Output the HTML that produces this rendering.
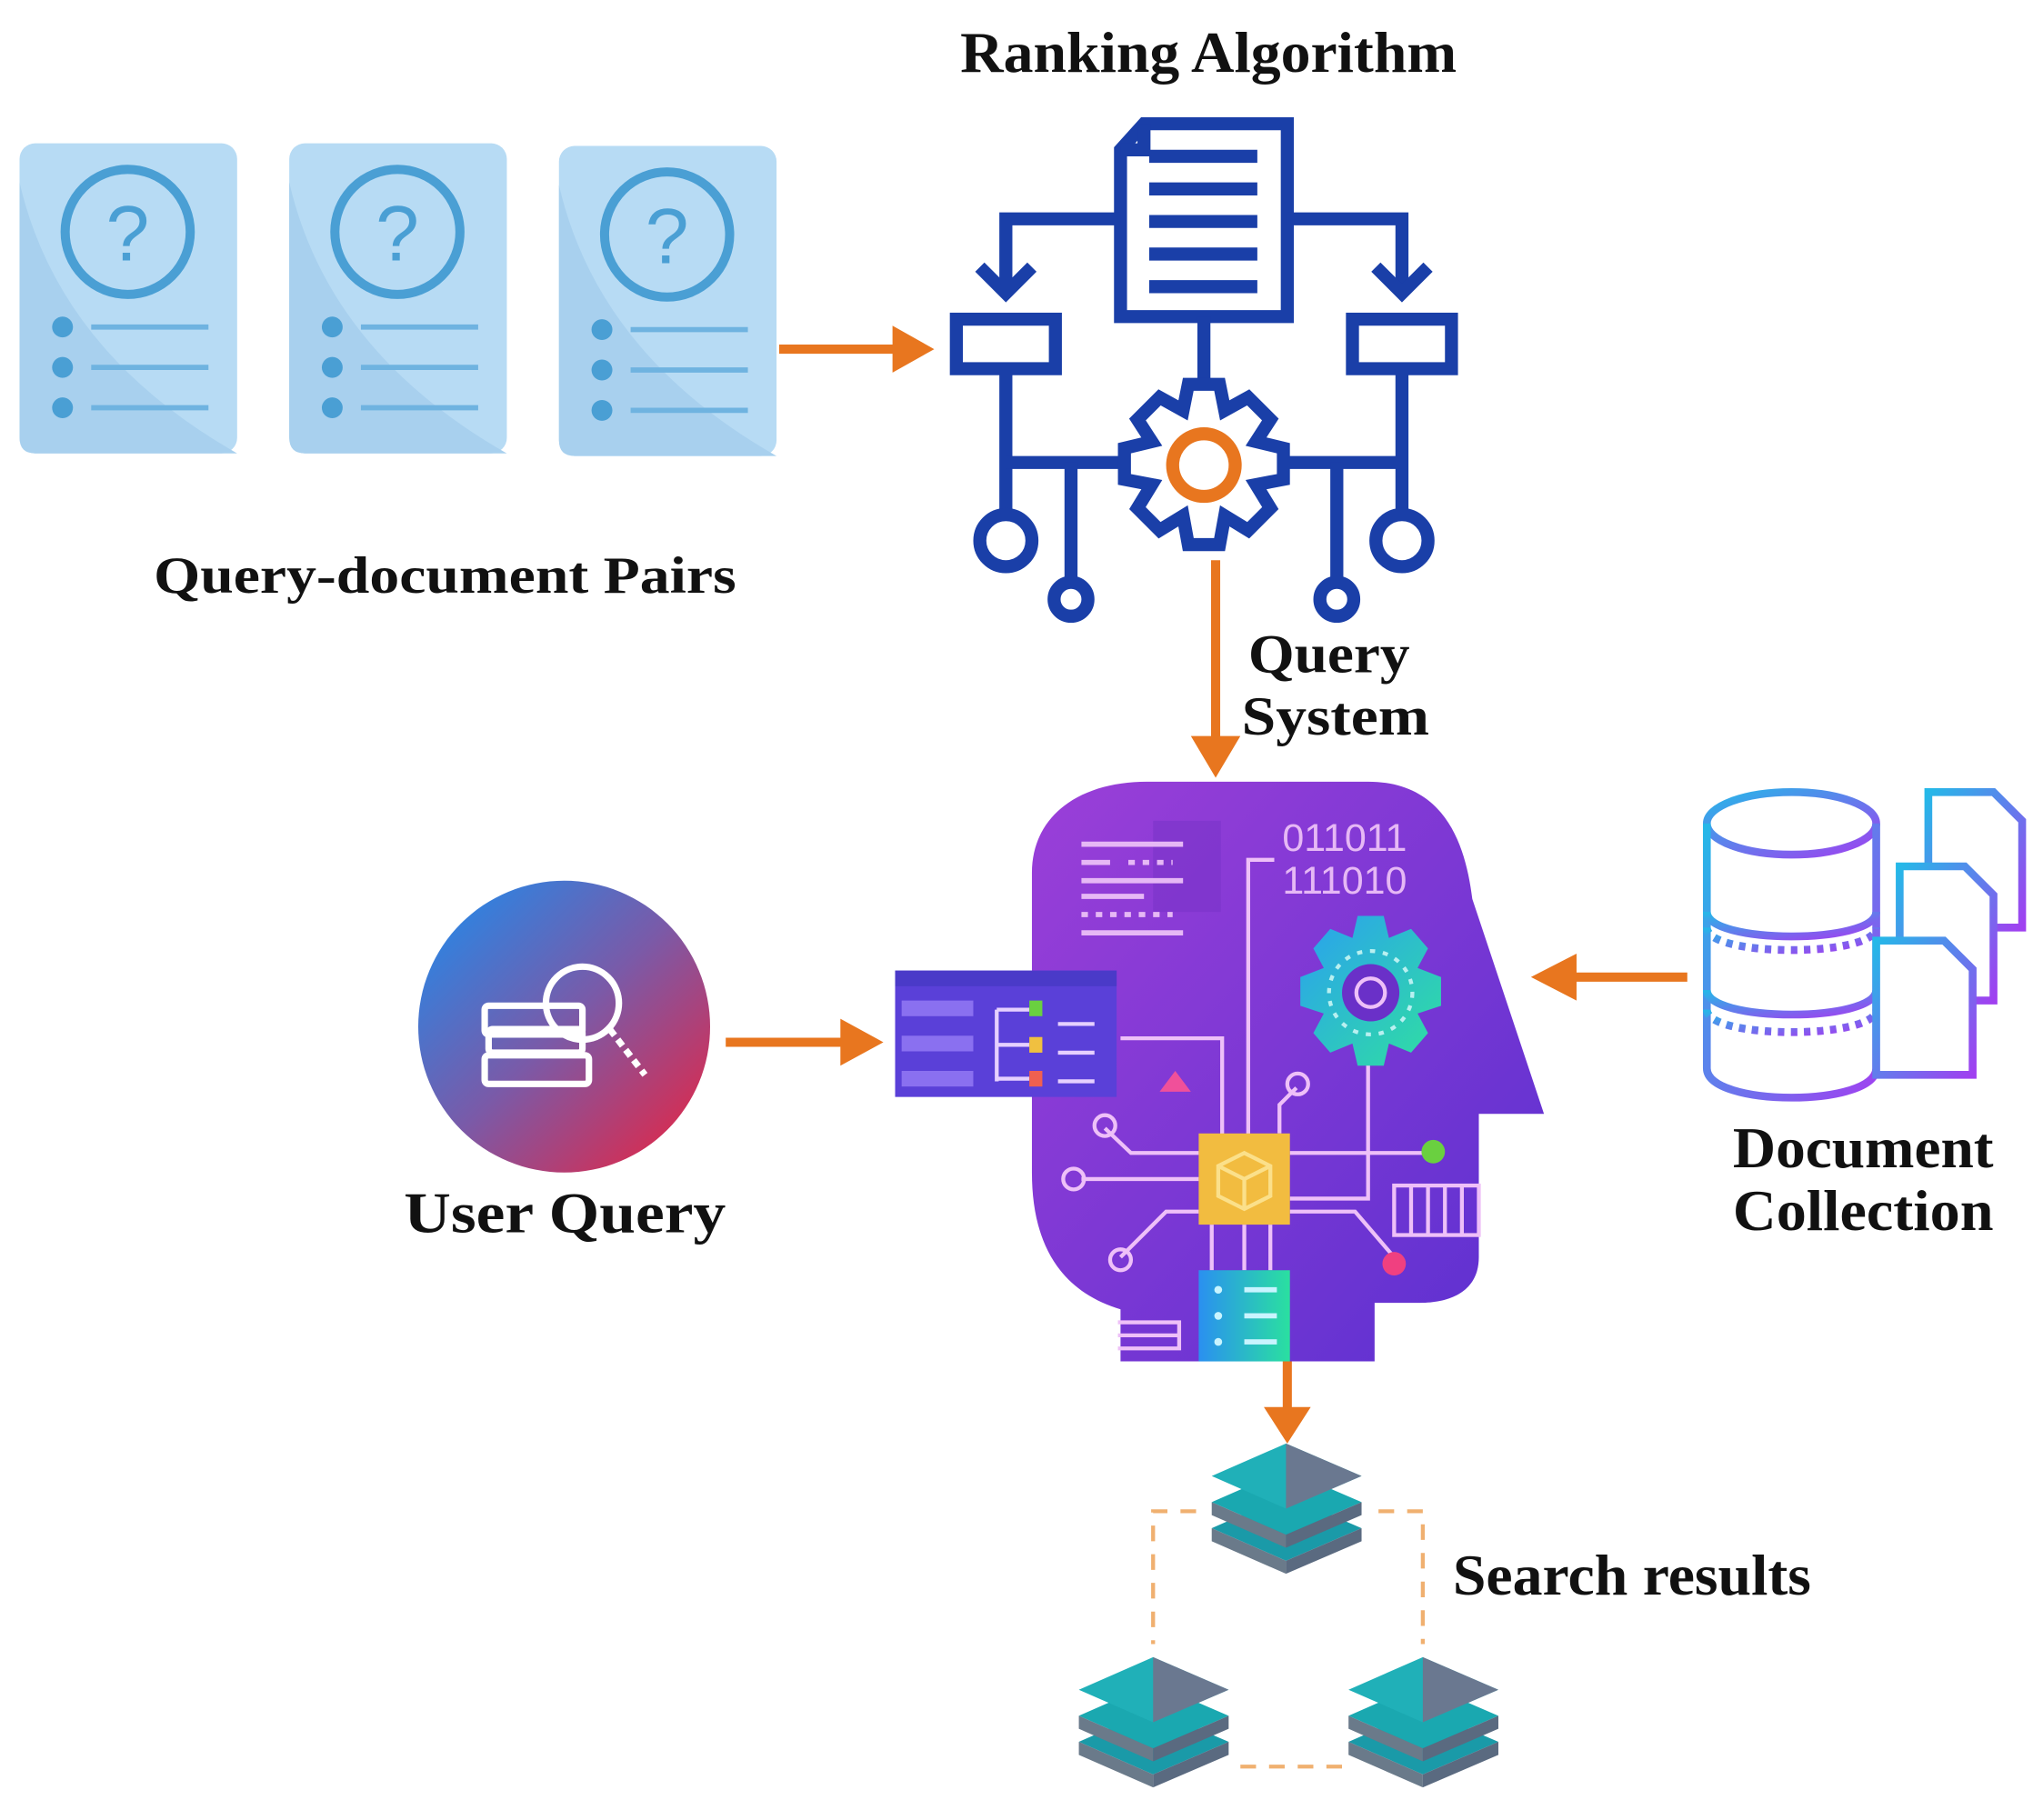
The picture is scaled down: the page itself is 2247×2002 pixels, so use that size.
<!DOCTYPE html>
<html><head><meta charset="utf-8"><style>
html,body{margin:0;padding:0;background:#fff;}
svg{display:block}
text{font-family:"Liberation Serif",serif;font-weight:bold;fill:#111}
</style></head><body>
<svg width="2247" height="2002" viewBox="0 0 1568 1397" preserveAspectRatio="none" xmlns="http://www.w3.org/2000/svg">
<defs>
<linearGradient id="head" x1="0" y1="0" x2="1" y2="1"><stop offset="0" stop-color="#9b3fd8"/><stop offset="1" stop-color="#5a30d0"/></linearGradient>
<linearGradient id="uq" x1="0" y1="0" x2="1" y2="1"><stop offset="0" stop-color="#1a8ef0"/><stop offset="0.5" stop-color="#7a5aa8"/><stop offset="1" stop-color="#f0203a"/></linearGradient>
<linearGradient id="db" x1="0" y1="0" x2="1" y2="1"><stop offset="0" stop-color="#25b8e8"/><stop offset="1" stop-color="#a040f0"/></linearGradient>
<linearGradient id="gear" x1="0" y1="0" x2="1" y2="1"><stop offset="0" stop-color="#2aa0f0"/><stop offset="1" stop-color="#30e0a0"/></linearGradient>
<linearGradient id="srv" x1="0" y1="0" x2="1" y2="0"><stop offset="0" stop-color="#2a90f0"/><stop offset="1" stop-color="#2ae0a0"/></linearGradient>
<g id="card">
<rect x="0" y="0" width="167" height="238" rx="12" fill="#b7dbf4"/>
<path d="M0 30 Q30 160 167 238 L12 238 Q0 238 0 226Z" fill="#a8d0ee"/>
<circle cx="83" cy="68" r="48" fill="none" stroke="#4a9fd4" stroke-width="7"/>
<text x="83" y="90" font-size="60" text-anchor="middle" style="fill:#4a9fd4;font-weight:normal;font-family:'Liberation Sans',sans-serif">?</text>
<g fill="#4a9fd4"><circle cx="33" cy="141" r="8"/><circle cx="33" cy="172" r="8"/><circle cx="33" cy="203" r="8"/></g>
<g stroke="#6fb3e0" stroke-width="4"><line x1="55" y1="141" x2="145" y2="141"/><line x1="55" y1="172" x2="145" y2="172"/><line x1="55" y1="203" x2="145" y2="203"/></g>
</g>
<g id="stack">
<g transform="translate(0,40)"><polygon points="0,25 57,0 115,25 57,50" fill="#1a9aa8"/><polygon points="0,25 57,50 57,60 0,35" fill="#6a7a8a"/><polygon points="115,25 57,50 57,60 115,35" fill="#5a6a80"/></g>
<g transform="translate(0,20)"><polygon points="0,25 57,0 115,25 57,50" fill="#1aa8b0"/><polygon points="0,25 57,50 57,60 0,35" fill="#6a7a8a"/><polygon points="115,25 57,50 57,60 115,35" fill="#5a6a80"/></g>
<polygon points="0,25 57,0 115,25 57,50" fill="#20b0b8"/><polygon points="57,0 115,25 57,50" fill="#6a7890"/>
</g>
</defs>

<text x="737" y="55" font-size="44" textLength="381" lengthAdjust="spacingAndGlyphs">Ranking Algorithm</text>

<use href="#card" x="15" y="110"/>
<use href="#card" x="222" y="110"/>
<use href="#card" x="429" y="112"/>

<text x="118" y="455" font-size="40" textLength="447" lengthAdjust="spacingAndGlyphs">Query-document Pairs</text>

<line x1="598" y1="268" x2="690" y2="268" stroke="#e8761f" stroke-width="7"/>
<polygon points="685,250 717,268 685,286" fill="#e8761f"/>

<g stroke="#1a3fa8" stroke-width="10" fill="none">
<path d="M878 95 L988 95 L988 243 L860 243 L860 115 Z"/>
<path d="M878 95 L878 115 L860 115"/>
<line x1="882" y1="120" x2="965" y2="120"/><line x1="882" y1="145" x2="965" y2="145"/><line x1="882" y1="170" x2="965" y2="170"/><line x1="882" y1="195" x2="965" y2="195"/><line x1="882" y1="220" x2="965" y2="220"/>
<path d="M860 168 L772 168 L772 225"/><path d="M752 205 L772 225 L792 205"/>
<path d="M988 168 L1076 168 L1076 225"/><path d="M1056 205 L1076 225 L1096 205"/>
<rect x="734" y="245" width="76" height="38"/><rect x="1038" y="245" width="76" height="38"/>
<line x1="924" y1="243" x2="924" y2="298"/>
<line x1="772" y1="283" x2="772" y2="395"/><line x1="1076" y1="283" x2="1076" y2="395"/>
<line x1="772" y1="355" x2="860" y2="355"/><line x1="988" y1="355" x2="1076" y2="355"/>
<line x1="822" y1="355" x2="822" y2="448"/><line x1="1026" y1="355" x2="1026" y2="448"/>
<circle cx="772" cy="415" r="20"/><circle cx="1076" cy="415" r="20"/>
<circle cx="822" cy="460" r="13"/><circle cx="1026" cy="460" r="13"/>
<path d="M912 295 L936 295 L940 315 L958 305 L975 322 L964 339 L985 344 L985 368 L964 372 L975 390 L958 407 L940 396 L936 418 L912 418 L908 396 L890 407 L873 390 L884 372 L863 368 L863 344 L884 339 L873 322 L890 305 L908 315 Z"/>
</g>
<circle cx="924" cy="357" r="24" fill="none" stroke="#e8761f" stroke-width="10"/>

<line x1="933" y1="430" x2="933" y2="570" stroke="#e8761f" stroke-width="7"/>
<polygon points="914,565 933,597 952,565" fill="#e8761f"/>
<text x="958" y="516" font-size="42" textLength="124" lengthAdjust="spacingAndGlyphs">Query</text>
<text x="953" y="564" font-size="42" textLength="144" lengthAdjust="spacingAndGlyphs">System</text>

<path d="M860 1045 L860 1005 C810 990 792 950 792 900 L792 670 C792 625 830 600 880 600 L1050 600 C1110 600 1125 650 1130 690 L1185 855 L1135 855 L1135 965 C1135 990 1115 1000 1090 1000 L1055 1000 L1055 1045 Z" fill="url(#head)"/>
<rect x="885" y="630" width="52" height="70" fill="#7a34c8" opacity="0.6"/>
<g stroke="#e6b8f5" stroke-width="4">
<line x1="830" y1="648" x2="908" y2="648"/><line x1="830" y1="662" x2="852" y2="662"/><line x1="866" y1="662" x2="900" y2="662" stroke-dasharray="5 6"/>
<line x1="830" y1="676" x2="908" y2="676"/><line x1="830" y1="688" x2="878" y2="688"/><line x1="830" y1="702" x2="900" y2="702" stroke-dasharray="5 6"/><line x1="830" y1="716" x2="908" y2="716"/>
</g>
<text x="1032" y="653" font-size="30" text-anchor="middle" style="fill:#e6b8f5;font-family:'Liberation Sans',sans-serif;font-weight:normal">011011</text>
<text x="1032" y="686" font-size="30" text-anchor="middle" style="fill:#e6b8f5;font-family:'Liberation Sans',sans-serif;font-weight:normal">111010</text>
<g stroke="#eec0f8" stroke-width="3" fill="none">
<path d="M978 660 L958 660 L958 890"/>
<path d="M860 797 L938 797 L938 890"/>
<path d="M1050 790 L1050 920 L990 920"/>
<path d="M848 866 L868 885 L920 885"/><circle cx="848" cy="864" r="8"/>
<path d="M830 905 L920 905"/><circle cx="824" cy="905" r="8"/>
<path d="M860 965 L895 930 L920 930"/><circle cx="860" cy="967" r="8"/>
<path d="M995 835 L982 848 L982 870"/><circle cx="996" cy="832" r="8"/>
<path d="M990 885 L1100 885"/>
<path d="M990 930 L1040 930 L1070 965"/>
<line x1="930" y1="940" x2="930" y2="975"/><line x1="955" y1="940" x2="955" y2="975"/><line x1="975" y1="940" x2="975" y2="975"/>
<rect x="1070" y="910" width="65" height="38"/><line x1="1083" y1="910" x2="1083" y2="948"/><line x1="1096" y1="910" x2="1096" y2="948"/><line x1="1109" y1="910" x2="1109" y2="948"/><line x1="1122" y1="910" x2="1122" y2="948"/>
<path d="M858 1015 L905 1015 L905 1035 L858 1035 M858 1025 L905 1025"/>
</g>
<circle cx="1100" cy="884" r="9" fill="#6ad040"/>
<circle cx="1070" cy="970" r="9" fill="#f04080"/>
<path d="M1042 703 L1062 703 L1066 720 L1083 713 L1096 728 L1088 743 L1106 750 L1106 772 L1088 778 L1096 793 L1083 808 L1066 801 L1062 818 L1042 818 L1038 801 L1021 808 L1008 793 L1016 778 L998 772 L998 750 L1016 743 L1008 728 L1021 713 L1038 720 Z" fill="url(#gear)"/>
<circle cx="1052" cy="762" r="32" fill="none" stroke="#b8f0f0" stroke-width="3" stroke-dasharray="4 6"/>
<circle cx="1052" cy="762" r="22" fill="#6a30c8"/>
<circle cx="1052" cy="762" r="11" fill="none" stroke="#eec0f8" stroke-width="3"/>
<rect x="920" y="870" width="70" height="70" fill="#f2bc40"/>
<path d="M955 885 L975 895 L975 918 L955 928 L935 918 L935 895 Z M935 895 L955 905 L975 895 M955 905 L955 928" fill="none" stroke="#fbe08a" stroke-width="3"/>
<rect x="920" y="975" width="70" height="70" fill="url(#srv)"/>
<g fill="#c8f4ff"><circle cx="935" cy="990" r="3"/><circle cx="935" cy="1010" r="3"/><circle cx="935" cy="1030" r="3"/><rect x="955" y="988" width="25" height="4"/><rect x="955" y="1008" width="25" height="4"/><rect x="955" y="1028" width="25" height="4"/></g>
<polygon points="890,838 902,822 914,838" fill="#f0509a"/>
<rect x="687" y="745" width="170" height="97" fill="#5a40d8"/>
<rect x="687" y="745" width="170" height="12" fill="#4a3ac8"/>
<g fill="#8a70f0"><rect x="692" y="768" width="55" height="12"/><rect x="692" y="795" width="55" height="12"/><rect x="692" y="822" width="55" height="12"/></g>
<g stroke="#e6d0ff" stroke-width="3" fill="none"><path d="M765 775 L765 830 M765 775 L790 775 M765 802 L790 802 M765 828 L790 828"/><line x1="812" y1="786" x2="840" y2="786"/><line x1="812" y1="808" x2="840" y2="808"/><line x1="812" y1="830" x2="840" y2="830"/></g>
<rect x="790" y="768" width="10" height="12" fill="#6ad040"/><rect x="790" y="796" width="10" height="12" fill="#f0c040"/><rect x="790" y="822" width="10" height="12" fill="#f06050"/>

<circle cx="433" cy="788" r="112" fill="url(#uq)"/>
<g fill="none" stroke="#fff" stroke-width="5">
<rect x="372" y="772" width="75" height="22" rx="3"/><rect x="372" y="810" width="80" height="22" rx="3"/><rect x="375" y="790" width="72" height="18" rx="3"/>
<circle cx="447" cy="770" r="28"/><line x1="468" y1="790" x2="495" y2="825" stroke-dasharray="6 4"/>
</g>
<text x="310" y="946" font-size="44" textLength="247" lengthAdjust="spacingAndGlyphs">User Query</text>
<line x1="557" y1="800" x2="650" y2="800" stroke="#e8761f" stroke-width="7"/>
<polygon points="645,782 678,800 645,818" fill="#e8761f"/>

<g fill="none" stroke="url(#db)" stroke-width="6">
<ellipse cx="1375" cy="632" rx="65" ry="24"/>
<path d="M1310 632 L1310 820 C1310 850 1440 850 1440 820 L1440 632"/>
<path d="M1310 700 C1310 725 1440 725 1440 700"/><path d="M1310 760 C1310 785 1440 785 1440 760"/>
<path d="M1310 712 C1310 735 1440 735 1440 712" stroke-dasharray="5 5"/><path d="M1310 775 C1310 798 1440 798 1440 775" stroke-dasharray="5 5"/>
<path d="M1480 608 L1530 608 L1552 630 L1552 712 L1480 712 Z"/>
<path d="M1458 665 L1508 665 L1530 687 L1530 768 L1458 768 Z" fill="#fff"/>
<path d="M1440 722 L1492 722 L1514 744 L1514 825 L1440 825 Z" fill="#fff"/>
<line x1="1455" y1="755" x2="1495" y2="755"/><line x1="1455" y1="775" x2="1495" y2="775"/><line x1="1455" y1="805" x2="1490" y2="805" stroke-dasharray="5 5"/>
</g>
<line x1="1295" y1="750" x2="1205" y2="750" stroke="#e8761f" stroke-width="7"/>
<polygon points="1210,732 1175,750 1210,768" fill="#e8761f"/>
<text x="1330" y="896" font-size="44" textLength="200" lengthAdjust="spacingAndGlyphs">Document</text>
<text x="1330" y="944" font-size="44" textLength="200" lengthAdjust="spacingAndGlyphs">Collection</text>

<line x1="988" y1="1045" x2="988" y2="1085" stroke="#e8761f" stroke-width="7"/>
<polygon points="970,1080 988,1108 1006,1080" fill="#e8761f"/>
<use href="#stack" x="930" y="1108"/>
<use href="#stack" x="828" y="1272"/>
<use href="#stack" x="1035" y="1272"/>
<g stroke="#f0b070" stroke-width="3" fill="none" stroke-dasharray="12 10">
<path d="M918 1160 L885 1160 L885 1262"/>
<path d="M1058 1160 L1092 1160 L1092 1262"/>
<path d="M1030 1356 L950 1356"/>
</g>
<text x="1115" y="1224" font-size="44" textLength="275" lengthAdjust="spacingAndGlyphs">Search results</text>
</svg>
</body></html>
